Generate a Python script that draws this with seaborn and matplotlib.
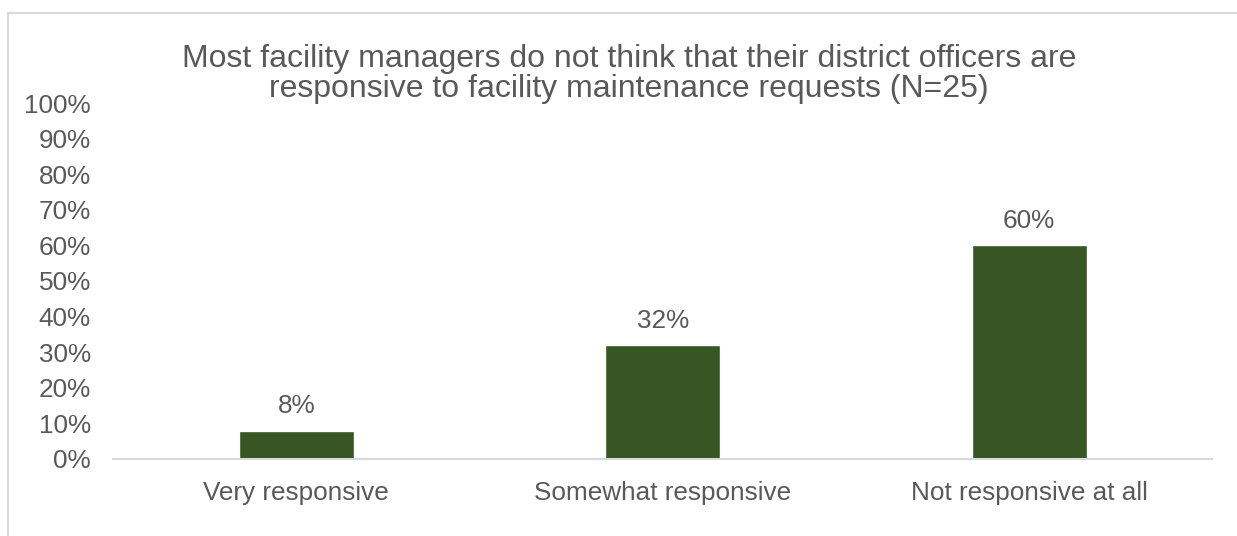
import matplotlib
matplotlib.use("Agg")
import matplotlib.pyplot as plt
import seaborn as sns
import pandas as pd

# Chart data
categories = ["Very responsive", "Somewhat responsive", "Not responsive at all"]
shares = [0.08, 0.32, 0.60]
bar_labels = ["8%", "32%", "60%"]
y_ticks = [0.0, 0.1, 0.2, 0.3, 0.4, 0.5, 0.6, 0.7, 0.8, 0.9, 1.0]
y_tick_labels = ["0%", "10%", "20%", "30%", "40%", "50%", "60%", "70%", "80%", "90%", "100%"]
title = ("Most facility managers do not think that their district officers are\n"
         "responsive to facility maintenance requests (N=25)")

df = pd.DataFrame({"Response": categories, "Share": shares})

sns.set_style("white")
plt.rcParams["font.family"] = ["Liberation Sans", "DejaVu Sans"]

text_color = "#595959"
bar_color = "#375623"
line_color = "#d9d9d9"

fig = plt.figure(figsize=(12.37, 5.36), dpi=100)
ax = fig.add_axes([0.0914, 0.1437, 0.8886, 0.6641])

sns.barplot(data=df, x="Response", y="Share", color=bar_color, width=0.314,
            saturation=1, ax=ax)

# Value labels above bars
for patch, lab in zip(ax.patches, bar_labels):
    ax.annotate(lab, (patch.get_x() + patch.get_width() / 2, patch.get_height()),
                xytext=(0, 9), textcoords="offset points", ha="center", va="bottom",
                fontsize=18.8, color=text_color)

ax.set_ylim(0, 1.0)
ax.set_xlim(-0.5, 2.5)
ax.set_yticks(y_ticks)
ax.set_yticklabels(y_tick_labels)
ax.set_xlabel("")
ax.set_ylabel("")
ax.tick_params(axis="both", length=0, labelsize=18.8, labelcolor=text_color)
ax.tick_params(axis="y", pad=16)
ax.tick_params(axis="x", pad=16)

for side in ["top", "right", "left"]:
    ax.spines[side].set_visible(False)
ax.spines["bottom"].set_color(line_color)
ax.spines["bottom"].set_linewidth(1.5)

fig.text(629 / 1237, 1 - 44 / 536, title, ha="center", va="top",
         fontsize=23, color=text_color, linespacing=1.0)

# Chart area border
border = plt.Rectangle((8 / 1237, -0.1), 1.2, 1.1 - 13 / 536,
                       transform=fig.transFigure, fill=False,
                       edgecolor=line_color, linewidth=1.5)
fig.patches.append(border)

fig.savefig("out.png", dpi=100)
